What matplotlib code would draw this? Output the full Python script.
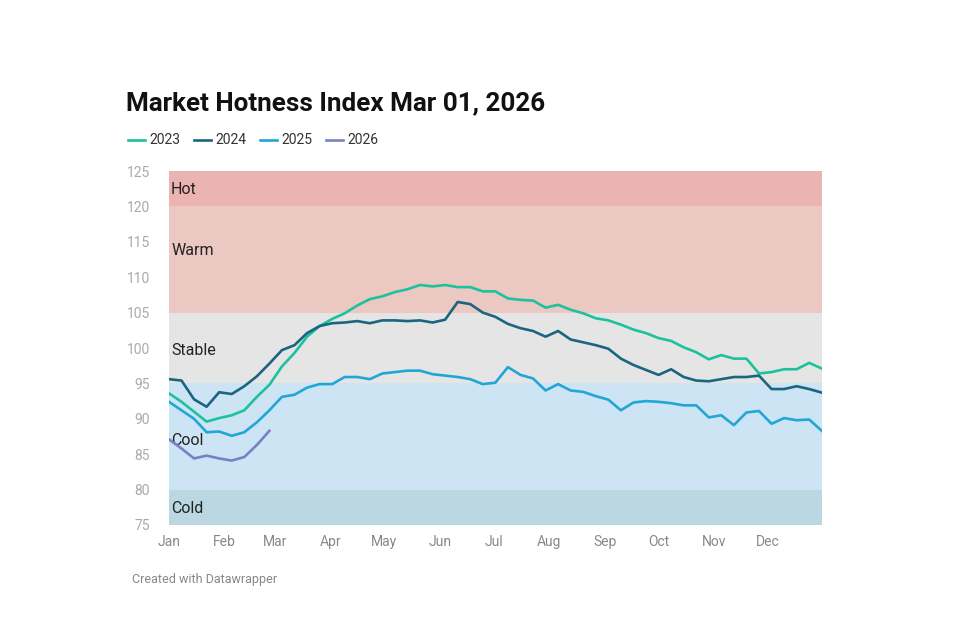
import matplotlib
matplotlib.use("Agg")
import matplotlib.pyplot as plt
import numpy as np

plt.rcParams['font.family'] = ['Roboto', 'DejaVu Sans']

months = ["Jan", "Feb", "Mar", "Apr", "May", "Jun", "Jul", "Aug", "Sep", "Oct", "Nov", "Dec"]
month_start_days = [0, 31, 59, 90, 120, 151, 181, 212, 243, 273, 304, 334]

y2023 = [93.6, 92.4, 91.0, 89.6, 90.1, 90.5, 91.2, 93.1, 94.8, 97.4, 99.3, 101.6, 103.1,
         104.1, 104.9, 106.0, 106.9, 107.3, 107.9, 108.3, 108.9, 108.7, 108.9, 108.6, 108.6,
         108.0, 108.0, 107.0, 106.8, 106.7, 105.7, 106.1, 105.4, 104.9, 104.2, 103.9, 103.3,
         102.6, 102.1, 101.4, 101.0, 100.1, 99.4, 98.4, 99.0, 98.5, 98.5, 96.4, 96.6, 97.0,
         97.0, 97.9, 97.1]
y2024 = [95.6, 95.4, 92.75, 91.7, 93.75, 93.5, 94.6, 96.0, 97.8, 99.7, 100.4, 102.1, 103.1,
         103.5, 103.6, 103.8, 103.5, 103.9, 103.9, 103.8, 103.9, 103.6, 104.0, 106.5, 106.2,
         105.0, 104.4, 103.4, 102.8, 102.4, 101.6, 102.4, 101.2, 100.8, 100.4, 99.9, 98.5,
         97.6, 96.9, 96.2, 97.0, 95.9, 95.4, 95.3, 95.6, 95.9, 95.9, 96.1, 94.2, 94.2,
         94.6, 94.2, 93.7]
y2025 = [92.4, 91.2, 90.0, 88.1, 88.2, 87.6, 88.1, 89.5, 91.2, 93.1, 93.4, 94.4, 94.9,
         94.9, 95.9, 95.9, 95.6, 96.4, 96.6, 96.8, 96.8, 96.3, 96.1, 95.9, 95.6,
         94.9, 95.1, 97.3, 96.2, 95.7, 94.0, 94.9, 94.0, 93.8, 93.2, 92.7, 91.2,
         92.3, 92.5, 92.4, 92.2, 91.9, 91.9, 90.2, 90.5, 89.1, 90.9, 91.1, 89.3, 90.1,
         89.8, 89.9, 88.3]
y2026 = [87.1, 85.8, 84.4, 84.8, 84.4, 84.1, 84.6, 86.3, 88.3]

series = [("2023", y2023, "#1cc29d"), ("2024", y2024, "#1b6580"),
          ("2025", y2025, "#22a6d6"), ("2026", y2026, "#7a80c6")]

bands = [("Cold", 75, 80, "#bad7e2"), ("Cool", 80, 95, "#cde4f4"),
         ("Stable", 95, 105, "#e5e5e5"), ("Warm", 105, 120, "#ecc8c2"),
         ("Hot", 120, 125, "#ebb4b2")]
band_label_y = {"Hot": 122.4, "Warm": 113.8, "Stable": 99.7, "Cool": 87.0, "Cold": 77.4}

fig = plt.figure(figsize=(9.6, 6.4), dpi=100)
ax = fig.add_axes([0.176, 0.1797, 0.68, 0.5531])

xmax = 364
for name, lo, hi, col in bands:
    ax.axhspan(lo, hi, color=col, lw=0, zorder=0)
    ax.text(1.2, band_label_y[name], name, fontsize=11.5, color="#222222",
            va="center", ha="left", zorder=1)

for name, vals, col in series:
    days = np.arange(len(vals)) * 7
    ax.plot(days, vals, color=col, lw=1.9, label=name, zorder=3, solid_joinstyle="round")

ax.set_xlim(0, xmax)
ax.set_ylim(75, 125)
ax.set_yticks(range(75, 126, 5))
ax.set_xticks(month_start_days)
ax.set_xticklabels(months)
ax.tick_params(axis="both", length=0)
ax.tick_params(axis="y", labelcolor="#aaaaaa", labelsize=10, pad=13.5)
ax.tick_params(axis="x", labelcolor="#888888", labelsize=10, pad=7.5)
for lbl in ax.get_yticklabels():
    lbl.set_horizontalalignment("right")
for s in ax.spines.values():
    s.set_visible(False)

fig.text(126 / 960, 1 - 103 / 640, "Market Hotness Index Mar 01, 2026", fontsize=18.7,
         fontweight="bold", color="#111111", va="center", ha="left")

handles, labels = ax.get_legend_handles_labels()
leg = fig.legend(handles, labels, loc="center left", bbox_to_anchor=(122 / 960, 1 - 140.5 / 640),
                 ncol=4, frameon=False, fontsize=10, handlelength=1.25, handletextpad=0.3,
                 columnspacing=0.98, borderaxespad=0)
for t in leg.get_texts():
    t.set_color("#333333")

fig.text(132 / 960, 1 - 580 / 640, "Created with Datawrapper", fontsize=9,
         color="#888888", va="center", ha="left")

fig.savefig("out.png", dpi=100, facecolor="white")
